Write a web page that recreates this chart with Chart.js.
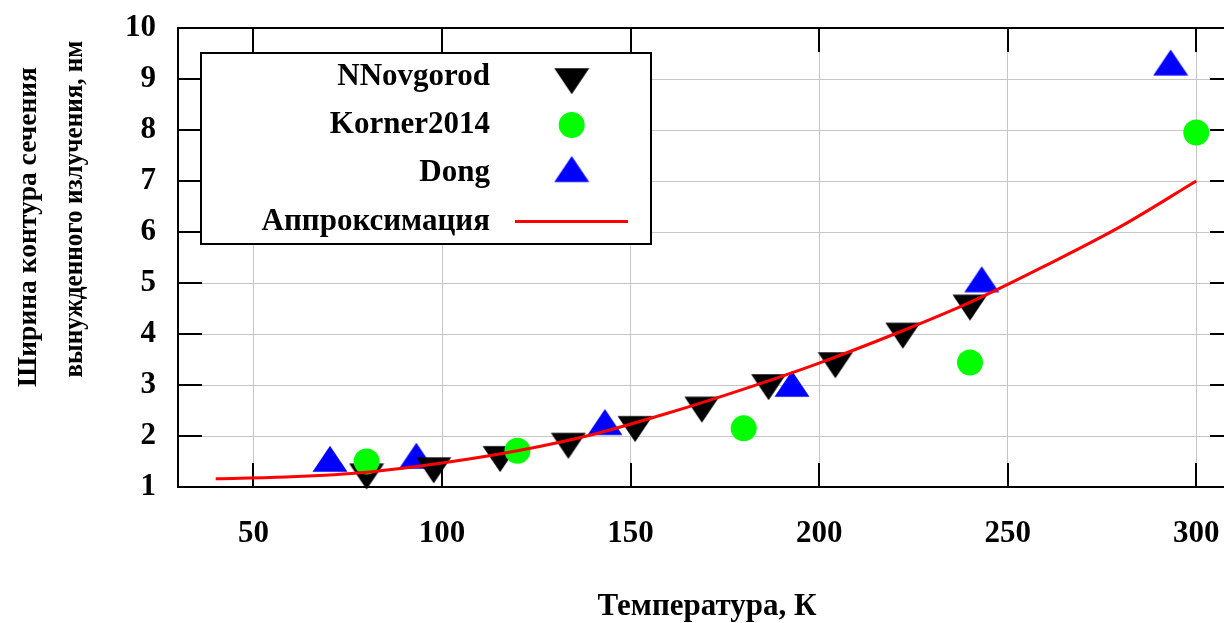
<!DOCTYPE html>
<html>
<head>
<meta charset="utf-8">
<script src="https://cdn.jsdelivr.net/npm/chart.js@4"></script>
<style>
  html, body { margin: 0; padding: 0; background: #fff; overflow: hidden; width: 1224px; height: 623px; }
  canvas { display: block; }
</style>
</head>
<body>
<canvas id="chart" width="1252" height="623" style="width:1252px;height:623px"></canvas>
<script>
// Tick values on both axes
const xTickValues = [50, 100, 150, 200, 250, 300];
const yTickValues = [1, 2, 3, 4, 5, 6, 7, 8, 9, 10];

// Temperature (K) and line width (nm) for each source
const nnovgorodT = [80, 97.8, 115.4, 133.5, 151.2, 168.9, 186.6, 204.3, 222.2, 240.0];
const nnovgorodW = [1.29, 1.41, 1.63, 1.89, 2.22, 2.60, 3.04, 3.47, 4.05, 4.60];

const kornerT = [80, 120, 180, 240, 300];
const kornerW = [1.50, 1.71, 2.15, 3.44, 7.95];

const dongT = [70.3, 93.2, 143.2, 192.8, 243.1, 293.2];
const dongW = [1.47, 1.53, 2.19, 2.94, 4.99, 9.24];

// Approximation curve
const fitT = [40, 60, 80, 100, 120, 140, 160, 180, 200, 220, 240, 260, 280, 300];
const fitW = [1.16, 1.20, 1.29, 1.47, 1.71, 2.03, 2.45, 2.92, 3.43, 4.00, 4.62, 5.34, 6.11, 7.00];

const seriesNames = ['NNovgorod', 'Korner2014', 'Dong', 'Аппроксимация'];
const xTitle = 'Температура, К';
const yTitleLines = ['Ширина контура сечения', 'вынужденного излучения, нм'];

const FONT_FAMILY = '"Liberation Serif", "Times New Roman", serif';
const FONT = 'bold 31px ' + FONT_FAMILY;
const Y_TITLE_FONT = 'bold 27.5px ' + FONT_FAMILY;

const pairs = (xs, ys) => xs.map((x, i) => ({ x: x, y: ys[i] }));

// Filled triangle sprite with its centroid at the sprite centre
function triangleSprite(color, pointDown) {
  const w = 35, h = 26, size = 36;
  const c = document.createElement('canvas');
  c.width = size; c.height = size;
  const g = c.getContext('2d');
  const cx = size / 2, cy = size / 2;
  const apex = pointDown ? cy + 2 * h / 3 : cy - 2 * h / 3;
  const base = pointDown ? cy - h / 3 : cy + h / 3;
  g.fillStyle = color;
  g.beginPath();
  g.moveTo(cx, apex);
  g.lineTo(cx - w / 2, base);
  g.lineTo(cx + w / 2, base);
  g.closePath();
  g.fill();
  return c;
}
const downBlack = triangleSprite('#000000', true);
const upBlue = triangleSprite('#0000ff', false);

// Border with inward ticks on all four sides
const framePlugin = {
  id: 'frame',
  beforeDatasetsDraw(chart) {
    const { ctx, chartArea: a, scales } = chart;
    const tick = 24;
    ctx.save();
    ctx.strokeStyle = '#000';
    ctx.lineWidth = 2;
    ctx.strokeRect(a.left, a.top, a.right - a.left, a.bottom - a.top);
    ctx.beginPath();
    xTickValues.forEach(v => {
      const px = Math.round(scales.x.getPixelForValue(v));
      ctx.moveTo(px, a.bottom); ctx.lineTo(px, a.bottom - tick);
      ctx.moveTo(px, a.top); ctx.lineTo(px, a.top + tick);
    });
    yTickValues.forEach(v => {
      const py = Math.round(scales.y.getPixelForValue(v));
      ctx.moveTo(a.left, py); ctx.lineTo(a.left + tick, py);
      ctx.moveTo(a.right, py); ctx.lineTo(a.right - tick, py);
    });
    ctx.stroke();
    ctx.restore();
  }
};

// Boxed key in the upper left of the plot
const keyPlugin = {
  id: 'key',
  afterDatasetsDraw(chart) {
    const ctx = chart.ctx;
    const box = { left: 201, top: 53, right: 651, bottom: 244 };
    const rows = [77, 125, 173.3, 221.5];
    const textRight = 490;
    const symX = 571.7;
    ctx.save();
    ctx.fillStyle = '#fff';
    ctx.fillRect(box.left, box.top, box.right - box.left, box.bottom - box.top);
    ctx.strokeStyle = '#000';
    ctx.lineWidth = 2;
    ctx.strokeRect(box.left, box.top, box.right - box.left, box.bottom - box.top);
    ctx.font = FONT;
    ctx.fillStyle = '#000';
    ctx.textAlign = 'right';
    ctx.textBaseline = 'middle';
    seriesNames.forEach((name, i) => ctx.fillText(name, textRight, rows[i]));
    ctx.drawImage(downBlack, symX - downBlack.width / 2, rows[0] - downBlack.height / 2);
    ctx.fillStyle = '#00ff00';
    ctx.beginPath();
    ctx.arc(symX, rows[1], 13, 0, Math.PI * 2);
    ctx.fill();
    ctx.drawImage(upBlue, symX - upBlue.width / 2, rows[2] - upBlue.height / 2);
    ctx.strokeStyle = '#ff0000';
    ctx.lineWidth = 3;
    ctx.beginPath();
    ctx.moveTo(515, rows[3]);
    ctx.lineTo(628, rows[3]);
    ctx.stroke();
    ctx.restore();
  }
};

// Axis titles
const titlePlugin = {
  id: 'titles',
  afterDraw(chart) {
    const ctx = chart.ctx;
    ctx.save();
    ctx.font = FONT;
    ctx.fillStyle = '#000';
    ctx.textAlign = 'center';
    ctx.textBaseline = 'middle';
    ctx.fillText(xTitle, 707, 607);
    ctx.font = Y_TITLE_FONT;
    const yLayout = [
      { x: 29, y: 227, width: 320 },
      { x: 75, y: 209, width: 337 }
    ];
    yTitleLines.forEach((line, i) => {
      const p = yLayout[i];
      ctx.save();
      ctx.translate(p.x, p.y);
      ctx.rotate(-Math.PI / 2);
      ctx.fillText(line, 0, 0, p.width);
      ctx.restore();
    });
    ctx.restore();
  }
};

Chart.defaults.font.family = FONT_FAMILY;
Chart.defaults.font.size = 31;
Chart.defaults.font.weight = 'bold';
Chart.defaults.color = '#000';

new Chart(document.getElementById('chart'), {
  type: 'scatter',
  data: {
    datasets: [
      {
        label: seriesNames[3],
        data: pairs(fitT, fitW),
        showLine: true,
        borderColor: '#ff0000',
        borderWidth: 3,
        pointRadius: 0,
        cubicInterpolationMode: 'monotone',
        order: 0
      },
      {
        label: seriesNames[1],
        data: pairs(kornerT, kornerW),
        pointStyle: 'circle',
        pointRadius: 13,
        backgroundColor: '#00ff00',
        borderWidth: 0,
        clip: false,
        order: 1
      },
      {
        label: seriesNames[0],
        data: pairs(nnovgorodT, nnovgorodW),
        pointStyle: downBlack,
        pointRadius: 18,
        borderWidth: 0,
        clip: false,
        order: 2
      },
      {
        label: seriesNames[2],
        data: pairs(dongT, dongW),
        pointStyle: upBlue,
        pointRadius: 18,
        borderWidth: 0,
        clip: false,
        order: 3
      }
    ]
  },
  options: {
    responsive: false,
    devicePixelRatio: 1,
    animation: false,
    events: [],
    layout: { padding: { top: 28, right: 6, left: 0, bottom: 0 } },
    plugins: {
      legend: { display: false },
      tooltip: { enabled: false }
    },
    scales: {
      x: {
        type: 'linear',
        min: 30,
        max: 310,
        afterBuildTicks: s => { s.ticks = xTickValues.map(v => ({ value: v })); },
        afterFit: s => { s.height = 136; s.paddingLeft = 0; s.paddingRight = 0; s.paddingTop = 0; s.paddingBottom = 0; },
        grid: { color: '#c6c6c6', lineWidth: 1, drawTicks: false },
        border: { display: false },
        ticks: { padding: 28, maxRotation: 0, autoSkip: false }
      },
      y: {
        type: 'linear',
        min: 1,
        max: 10,
        afterBuildTicks: s => { s.ticks = yTickValues.map(v => ({ value: v })); },
        afterFit: s => { s.width = 178; s.paddingLeft = 0; s.paddingRight = 0; s.paddingTop = 0; s.paddingBottom = 0; },
        grid: { color: '#c6c6c6', lineWidth: 1, drawTicks: false },
        border: { display: false },
        ticks: { padding: 22, autoSkip: false }
      }
    }
  },
  plugins: [framePlugin, keyPlugin, titlePlugin]
});
</script>
</body>
</html>
